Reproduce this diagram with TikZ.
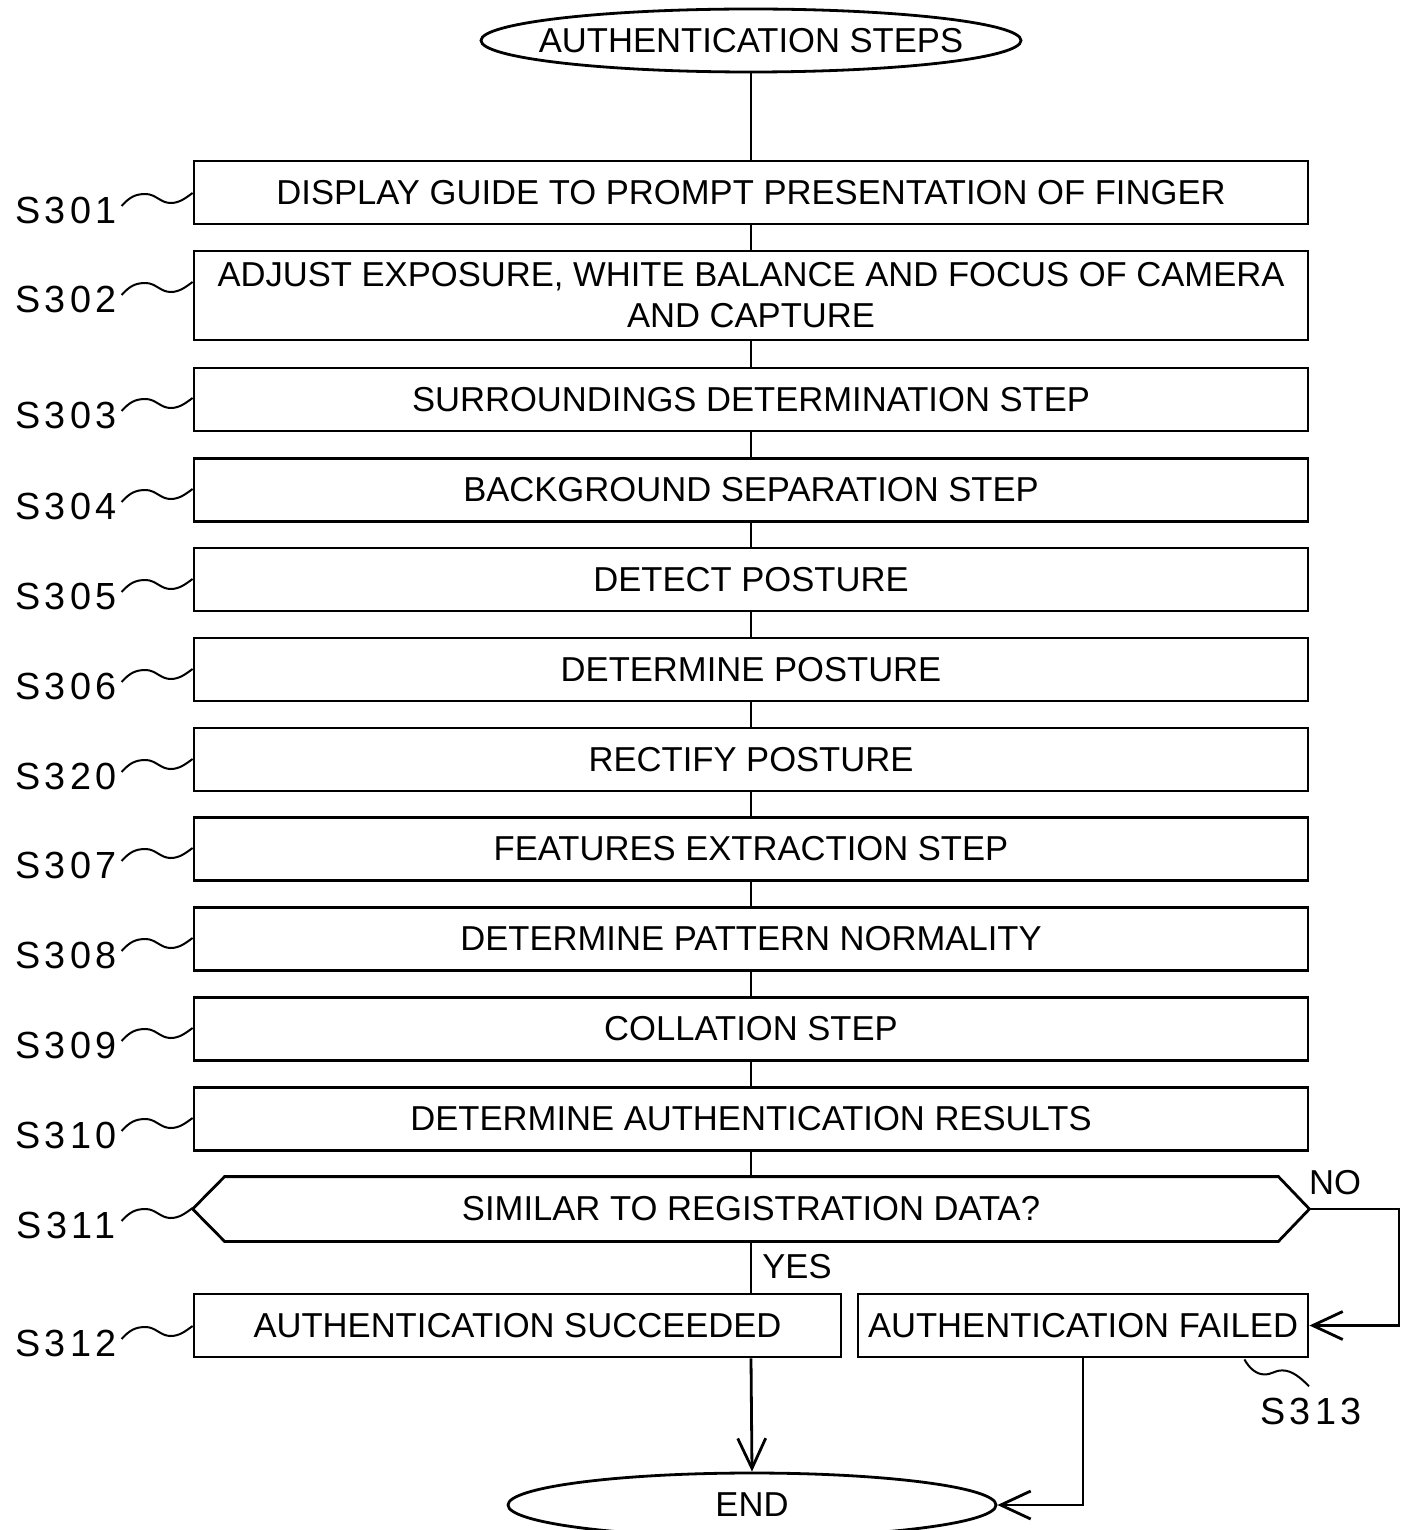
\documentclass[tikz,border=0pt]{standalone}
\usepackage{fontspec}
\setmainfont{Liberation Sans}
\usetikzlibrary{shapes.geometric,arrows.meta,calc}

\begin{document}
\begin{tikzpicture}[x=0.5pt,y=-0.5pt,line width=1.4pt,
  every node/.style={font=\fontsize{17.3}{20.5}\selectfont},
  stepbox/.style={draw,rectangle,minimum width=557pt,minimum height=31.5pt,inner sep=0pt,align=center},
  tag/.style={inner sep=0pt,font=\fontsize{18.9}{20}\selectfont\addfontfeature{LetterSpace=12}},
  lead/.style={line width=1pt},
  flow/.style={-{Straight Barb[length=15pt,width=14pt]}}]

\useasboundingbox (0,0) rectangle (1405,1530);

% terminals
\node[draw,ellipse,minimum width=270pt,minimum height=31.5pt,inner sep=0pt] (start) at (751,40.5) {};
\node (startlbl) at (751,40.5) {AUTHENTICATION STEPS};
\node[draw,ellipse,minimum width=244pt,minimum height=32pt,inner sep=0pt] (finish) at (752,1505) {};
\node (finishlbl) at (752,1505) {END};

% process steps
\node[stepbox] (s301) at (751,192.5) {DISPLAY GUIDE TO PROMPT PRESENTATION OF FINGER};
\node[stepbox,minimum height=44.5pt] (s302) at (751,295.5) {ADJUST EXPOSURE, WHITE BALANCE AND FOCUS OF CAMERA\\AND CAPTURE};
\node[stepbox] (s303) at (751,399.5) {SURROUNDINGS DETERMINATION STEP};
\node[stepbox] (s304) at (751,490) {BACKGROUND SEPARATION STEP};
\node[stepbox] (s305) at (751,579.5) {DETECT POSTURE};
\node[stepbox] (s306) at (751,669.5) {DETERMINE POSTURE};
\node[stepbox] (s320) at (751,759.5) {RECTIFY POSTURE};
\node[stepbox] (s307) at (751,849) {FEATURES EXTRACTION STEP};
\node[stepbox] (s308) at (751,939) {DETERMINE PATTERN NORMALITY};
\node[stepbox] (s309) at (751,1029) {COLLATION STEP};
\node[stepbox] (s310) at (751,1119) {DETERMINE AUTHENTICATION RESULTS};

% decision
\node[stepbox,draw=none,minimum height=31pt] (s311) at (751,1209) {SIMILAR TO REGISTRATION DATA?};
\draw (s311.west) -- ($(s311.north west)+(32,0)$) -- ($(s311.north east)+(-31,0)$)
  -- (s311.east) -- ($(s311.south east)+(-31,0)$) -- ($(s311.south west)+(32,0)$) -- cycle;

% outcomes
\node[stepbox,minimum width=323.5pt] (s312) at (517.5,1325.5) {AUTHENTICATION SUCCEEDED};
\node[stepbox,minimum width=225pt] (fail) at (1083,1325.5) {AUTHENTICATION FAILED};

% branch labels
\node (yes) at (797,1267) {YES};
\node (no) at (1335,1183) {NO};

% main flow
\draw (start.south) -- (s301.north);
\foreach \a/\b in {s301/s302,s302/s303,s303/s304,s304/s305,s305/s306,s306/s320,s320/s307,s307/s308,s308/s309,s309/s310,s310/s311}
  \draw (\a.south) -- (\b.north);
\draw (s311.south) -- (s311.south |- s312.north);
\coordinate (noturn) at (1399,1209);
\draw[flow] (s311.east) -- (noturn) |- (fail.east);
\draw[flow] (s312.south -| s311.south) -- (finish.north);
\draw[flow] (fail.south) -- (fail.south |- finish.east) -- (finish.east);

% step tags with wavy leaders
\foreach \n/\y in {301/210,302/299,303/415,304/506,305/596,306/686,320/776,307/865,308/955,309/1045,310/1135,311/1225,312/1343}{
  \node[tag] (t\n) at (66,\y) {S\n};
  \coordinate (e\n) at ($(s\n.west |- t\n.east)+(0,-17)$);
  \draw[lead] ($(e\n)+(-71,13)$) .. controls +(8,-9) and +(-10,0) .. ($(e\n)+(-47,1)$)
    .. controls +(10,0) and +(-10,0) .. ($(e\n)+(-22,10)$)
    .. controls +(9,0) and +(-7,5) .. (e\n);
}
\node[tag] (t313) at (1311,1411) {S313};
\coordinate (e313) at ($(t313.north)+(-2,-10)$);
\draw[lead] ($(fail.south east)+(-65,1)$) .. controls +(5,9) and +(-8,0) .. ($(fail.south east)+(-45,16)$)
  .. controls +(8,0) and +(-8,0) .. ($(fail.south east)+(-27,12)$)
  .. controls +(10,0) and +(-8,-8) .. (e313);

\end{tikzpicture}
\end{document}
